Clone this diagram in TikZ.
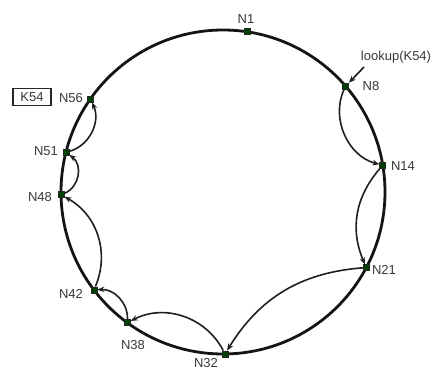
\documentclass[tikz,border=0pt]{standalone}
\usepackage{fontspec}
\setmainfont{Liberation Sans}
\usetikzlibrary{arrows.meta,calc}
\begin{document}
\begin{tikzpicture}[x=1pt,y=-1pt,
  ring/.style={line width=2.8pt,black!92},
  hop/.style={line width=1.6pt,black!88,-{Stealth[length=7pt,width=5.5pt]},bend right=32},
  peer/.style={draw=black!85,line width=0.8pt,fill=green!25!black,minimum size=6pt,inner sep=0pt,rectangle},
  lbl/.style={font=\fontsize{13}{14}\selectfont,text=black!78,inner sep=0pt}]
\useasboundingbox (0,0) rectangle (440,369);
\draw[ring] (223,192) circle (162);
% peers
\foreach \n/\a in {N1/81.5,N8/40.8,N14/9.5,N21/-27.8,N32/-89.3,N38/-126.2,N42/-142.8,N48/-179,N51/165.8,N56/145}
  \node[peer] (\n) at ($(223,192)+(\a:162 and -162)$) {};
% labels
\node[lbl] (lN1) at (246,19) {N1};
\node[lbl] (lN8) at (371,86) {N8};
\node[lbl] (lN14) at (403,166) {N14};
\node[lbl] (lN21) at (384,270) {N21};
\node[lbl] (lN32) at (206,363) {N32};
\node[lbl] (lN38) at (133,345) {N38};
\node[lbl] (lN42) at (71,294) {N42};
\node[lbl] (lN48) at (40,197) {N48};
\node[lbl] (lN51) at (46,151) {N51};
\node[lbl] (lN56) at (71,98) {N56};
\node[lbl,draw=black!85,line width=1.6pt,minimum width=38pt,minimum height=17pt] (k54) at (32,97) {K54};
\node[lbl] (lookup) at (396,57) {lookup(K54)};
\coordinate (lk) at (364,67);
\draw[line width=1.6pt,black!88,-{Stealth[length=7pt,width=5.5pt]}] (lk) -- (N8);
% hops
\draw[hop,bend right=50] (N8) to (N14);
\draw[hop,bend right=32] (N14) to (N21);
\draw[hop,bend right=27] (N21) to (N32);
\draw[hop,bend right=45] (N32) to (N38);
\draw[hop,bend right=48] (N38) to (N42);
\draw[hop,bend right=42] (N42) to (N48);
\draw[hop,bend right=60,looseness=1.1] (N48) to (N51);
\draw[hop,bend right=50] (N51) to (N56);
\end{tikzpicture}
\end{document}
